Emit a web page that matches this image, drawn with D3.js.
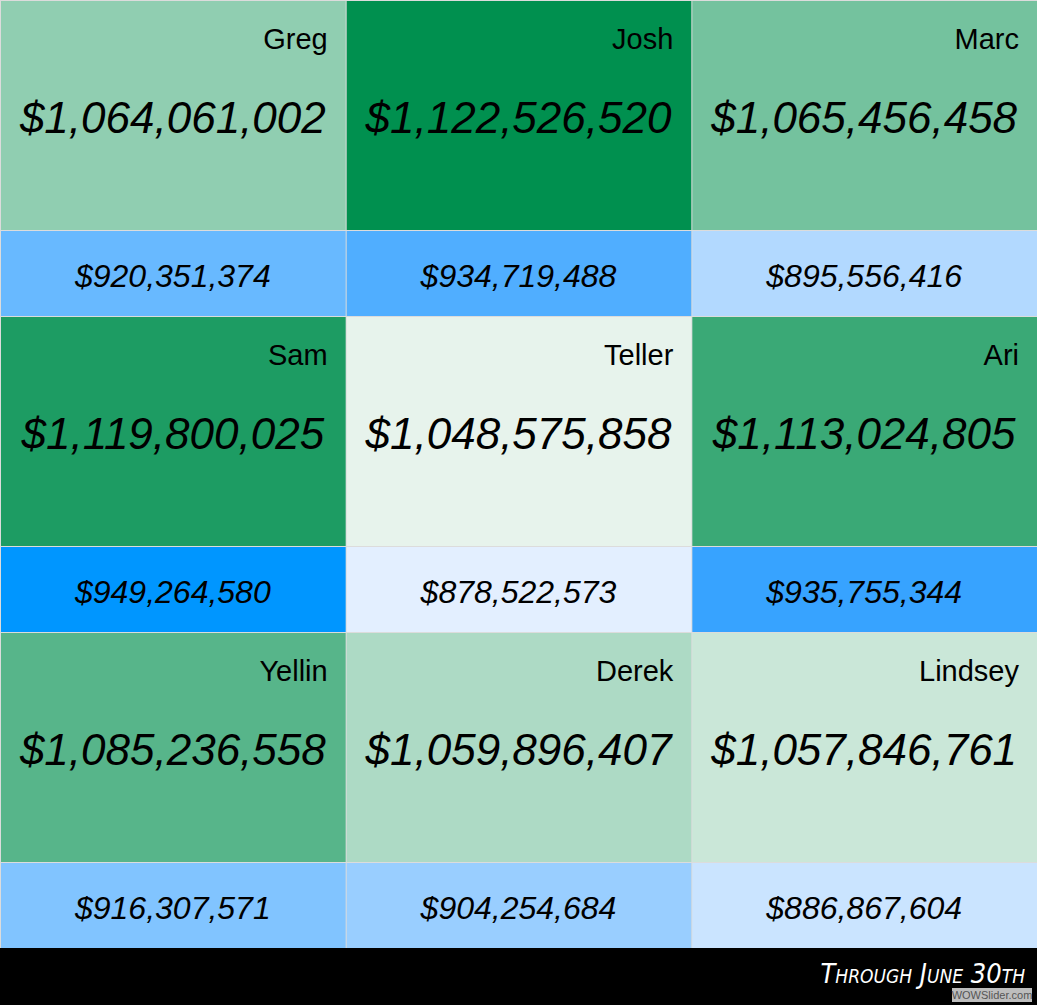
<!DOCTYPE html>
<html>
<head>
<meta charset="utf-8">
<script src="https://cdn.jsdelivr.net/npm/d3@7"></script>
<style>
  body { margin: 0; background: #000; }
  svg { display: block; }
</style>
</head>
<body>
<div id="chart-area"></div>
<script>
let width = 1037;
let height = 1005;

// names, in grid order (left to right, top to bottom)
const names = ["Greg", "Josh", "Marc", "Sam", "Teller", "Ari", "Yellin", "Derek", "Lindsey"];
// big green figure
const totals = [1064061002, 1122526520, 1065456458, 1119800025, 1048575858, 1113024805, 1085236558, 1059896407, 1057846761];
// smaller blue figure
const subtotals = [920351374, 934719488, 895556416, 949264580, 878522573, 935755344, 916307571, 904254684, 886867604];
const footnote = "Through June 30th";

let svg = d3.select("#chart-area")
  .append("svg")
  .attr("width", width)
  .attr("height", height);

// light gray grid lines show through the 1px gaps
svg.append("rect")
  .attr("width", width)
  .attr("height", 948)
  .attr("fill", "#dcdcdc");

let xScale = d3.scaleBand().domain([0, 1, 2]).range([0, width]);
let yScale = d3.scaleBand().domain([0, 1, 2]).range([0, 948]);
let greenH = 230;

// colour by rank, not by raw value
function rankOf(arr) {
  let sorted = arr.slice().sort((a, b) => a - b);
  return arr.map(v => sorted.indexOf(v));
}
let greenRank = rankOf(totals);
let blueRank = rankOf(subtotals);

let greenColor = d3.scaleLinear().domain([0, 8]).range(["#e7f3ec", "#00904f"]);
let blueColor = d3.scaleLinear().domain([0, 7, 8]).range(["#e3efff", "#37a3ff", "#0096ff"]);

let fmt = d3.format("$,");

let data = names.map((n, i) => ({
  name: n, total: totals[i], sub: subtotals[i],
  col: i % 3, row: Math.floor(i / 3),
  g: greenRank[i], b: blueRank[i]
}));

let cells = svg.selectAll("g.cell")
  .data(data)
  .enter()
  .append("g")
  .attr("class", "cell")
  .attr("transform", d => `translate(${xScale(d.col)}, ${yScale(d.row)})`);

let bw = xScale.bandwidth();
let bh = yScale.bandwidth();

cells.append("rect")
  .attr("x", 1)
  .attr("y", 1)
  .attr("width", bw - 1)
  .attr("height", greenH - 1)
  .attr("fill", d => greenColor(d.g));

cells.append("rect")
  .attr("x", 1)
  .attr("y", greenH + 1)
  .attr("width", bw - 1)
  .attr("height", bh - greenH - 1)
  .attr("fill", d => blueColor(d.b));

cells.append("text")
  .attr("x", bw - 18)
  .attr("y", 49)
  .attr("text-anchor", "end")
  .style("font-family", "'Liberation Sans', Arial, sans-serif")
  .style("font-size", "29px")
  .text(d => d.name);

cells.append("text")
  .attr("x", bw / 2)
  .attr("y", 133)
  .attr("text-anchor", "middle")
  .style("font-family", "'Liberation Sans', Arial, sans-serif")
  .style("font-style", "italic")
  .style("font-size", "44px")
  .text(d => fmt(d.total));

cells.append("text")
  .attr("x", bw / 2)
  .attr("y", greenH + 57)
  .attr("text-anchor", "middle")
  .style("font-family", "'Liberation Sans', Arial, sans-serif")
  .style("font-style", "italic")
  .style("font-size", "32px")
  .text(d => fmt(d.sub));

// footer
svg.append("rect")
  .attr("y", 948)
  .attr("width", width)
  .attr("height", height - 948)
  .attr("fill", "#000");

svg.append("text")
  .attr("x", 1025)
  .attr("y", 983)
  .attr("text-anchor", "end")
  .attr("fill", "#fff")
  .style("font-family", "'Liberation Sans Narrow', 'DejaVu Sans Condensed', sans-serif")
  .style("font-style", "italic")
  .style("font-variant", "small-caps")
  .style("font-size", "27px")
  .text(footnote);

// watermark
svg.append("rect")
  .attr("x", 952)
  .attr("y", 988)
  .attr("width", 80)
  .attr("height", 14)
  .attr("fill", "#bdbdbd");

svg.append("text")
  .attr("x", 992)
  .attr("y", 999)
  .attr("text-anchor", "middle")
  .attr("fill", "#555")
  .style("font-family", "'Liberation Sans', Arial, sans-serif")
  .style("font-size", "11px")
  .text("WOWSlider.com");
</script>
</body>
</html>
